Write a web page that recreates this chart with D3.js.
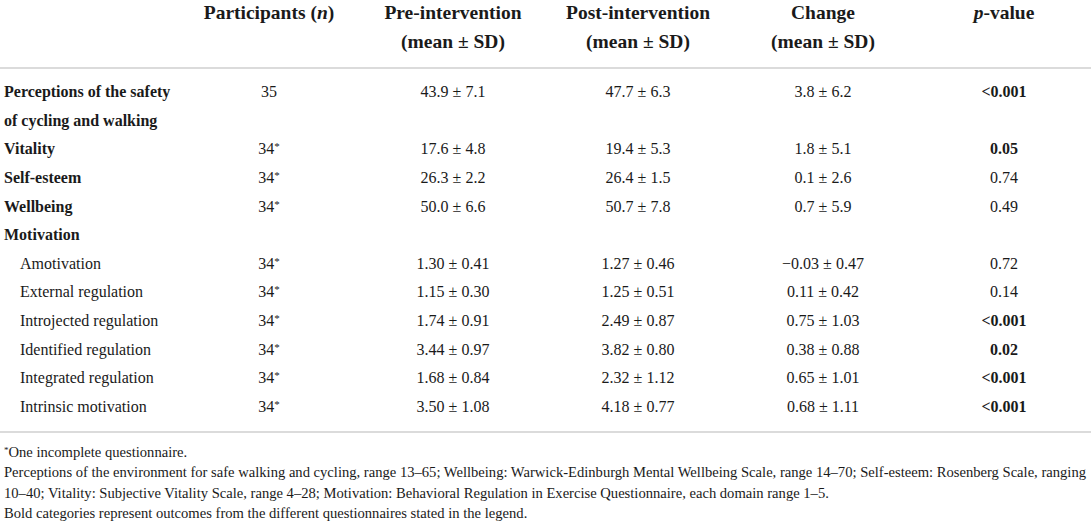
<!DOCTYPE html>
<html>
<head>
<meta charset="utf-8">
<script src="https://cdn.jsdelivr.net/npm/d3@7"></script>
<style>
  body { margin: 0; background: #fff; }
  svg text { font-family: 'Liberation Serif', 'DejaVu Serif', serif; fill: #1a1a1a; }
</style>
</head>
<body>
<svg id="table" width="1091" height="522"></svg>
<script>
// header, italic parts marked with _
const headTop = ['Participants (_n_)', 'Pre-intervention', 'Post-intervention', 'Change', '_p_-value'];
const headBottom = ['', '(mean ± SD)', '(mean ± SD)', '(mean ± SD)', ''];

const outcomes = ['Perceptions of the safety|of cycling and walking', 'Vitality', 'Self-esteem', 'Wellbeing'];
const motivationDomains = ['Amotivation', 'External regulation', 'Introjected regulation',
  'Identified regulation', 'Integrated regulation', 'Intrinsic motivation'];

const participants = ['35', '34*', '34*', '34*', '34*', '34*', '34*', '34*', '34*', '34*'];
const preMean = [43.9, 17.6, 26.3, 50.0, 1.30, 1.15, 1.74, 3.44, 1.68, 3.50];
const preSD = [7.1, 4.8, 2.2, 6.6, 0.41, 0.30, 0.91, 0.97, 0.84, 1.08];
const postMean = [47.7, 19.4, 26.4, 50.7, 1.27, 1.25, 2.49, 3.82, 2.32, 4.18];
const postSD = [6.3, 5.3, 1.5, 7.8, 0.46, 0.51, 0.87, 0.80, 1.12, 0.77];
const changeMean = [3.8, 1.8, 0.1, 0.7, -0.03, 0.11, 0.75, 0.38, 0.65, 0.68];
const changeSD = [6.2, 5.1, 2.6, 5.9, 0.47, 0.42, 1.03, 0.88, 1.01, 1.11];
const pValues = ['<0.001', '0.05', '0.74', '0.49', '0.72', '0.14', '<0.001', '0.02', '<0.001', '<0.001'];

const footnotes = [
  '*One incomplete questionnaire.',
  'Perceptions of the environment for safe walking and cycling, range 13–65; Wellbeing: Warwick-Edinburgh Mental Wellbeing Scale, range 14–70; Self-esteem: Rosenberg Scale, ranging',
  '10–40; Vitality: Subjective Vitality Scale, range 4–28; Motivation: Behavioral Regulation in Exercise Questionnaire, each domain range 1–5.',
  'Bold categories represent outcomes from the different questionnaires stated in the legend.'
];

const W = 1091;
const svg = d3.select('#table');

// build line layout: perceptions label takes two lines, Motivation is a heading
const rows = [];
let line = 0;
outcomes.forEach((o, i) => {
  rows.push({ label: o.split('|'), line, bold: true, data: i });
  line += o.split('|').length;
});
rows.push({ label: ['Motivation'], line, bold: true, data: null });
line += 1;
motivationDomains.forEach((m, i) => {
  rows.push({ label: [m], line, bold: false, indent: true, data: outcomes.length + i });
  line += 1;
});

const y = d3.scaleLinear().domain([0, line - 1]).range([97, 412]);
const col = d3.scaleOrdinal().domain(headTop).range([269, 453, 638, 823, 1004]);

const fmt = i => (i < outcomes.length ? d3.format('.1f') : d3.format('.2f'));
const pm = (m, s, i) => `${fmt(i)(m[i])} ± ${fmt(i)(s[i])}`;

// italic markup helper
function rich(sel, str) {
  str.split('_').forEach((part, k) => {
    if (part) sel.append('tspan').attr('font-style', k % 2 ? 'italic' : null).text(part);
  });
}

// header
const head = svg.append('g').attr('font-weight', 'bold').attr('font-size', 19.5).attr('text-anchor', 'middle');
headTop.forEach((h, i) => {
  rich(head.append('text').attr('x', col(h)).attr('y', 19), h);
  if (headBottom[i]) head.append('text').attr('x', col(h)).attr('y', 48).text(headBottom[i]);
});

svg.selectAll('line.rule')
  .data([68, 432])
  .join('line')
  .attr('class', 'rule')
  .attr('x1', 0).attr('x2', W)
  .attr('y1', d => d).attr('y2', d => d)
  .attr('stroke', '#cfcfcf')
  .attr('stroke-width', 1.5);

// body rows
const body = svg.append('g').attr('font-size', 16);
rows.forEach(r => {
  r.label.forEach((l, k) => {
    body.append('text')
      .attr('x', r.indent ? 20 : 4)
      .attr('y', y(r.line + k))
      .attr('font-weight', r.bold ? 'bold' : null)
      .text(l);
  });
  if (r.data === null) return;
  const i = r.data;
  const yy = y(r.line);
  const n = body.append('text').attr('x', col(headTop[0])).attr('y', yy).attr('text-anchor', 'middle');
  const [num, star] = participants[i].split(/(?=\*)/);
  n.append('tspan').text(num);
  if (star) n.append('tspan').attr('font-size', 11).attr('dy', -4).text(star);

  [[preMean, preSD], [postMean, postSD], [changeMean, changeSD]].forEach(([m, s], c) => {
    body.append('text')
      .attr('x', col(headTop[c + 1]))
      .attr('y', yy)
      .attr('text-anchor', 'middle')
      .text(pm(m, s, i));
  });
  const pv = pValues[i];
  body.append('text')
    .attr('x', col(headTop[4]))
    .attr('y', yy)
    .attr('text-anchor', 'middle')
    .attr('font-weight', pv.startsWith('<') || +pv <= 0.05 ? 'bold' : null)
    .text(pv);
});

// footnotes: squeeze every line by the factor that fits the long one to the width
const fy = d3.scaleLinear().domain([0, footnotes.length - 1]).range([457, 518]);
const notes = svg.append('g').attr('font-size', 14.5)
  .selectAll('text')
  .data(footnotes)
  .join('text')
  .attr('x', 4)
  .attr('y', (_, i) => fy(i))
  .each(function (d) {
    const t = d3.select(this);
    if (d.startsWith('*')) {
      t.append('tspan').attr('font-size', 9).attr('dy', -4).text('*');
      t.append('tspan').attr('dy', 4).text(d.slice(1));
    } else {
      t.text(d);
    }
  });
const natural = notes.nodes().map(n => n.getComputedTextLength());
const k = (1086 - 4) / d3.max(natural);
notes
  .attr('textLength', (_, i) => natural[i] * k)
  .attr('lengthAdjust', 'spacingAndGlyphs');
</script>
</body>
</html>
